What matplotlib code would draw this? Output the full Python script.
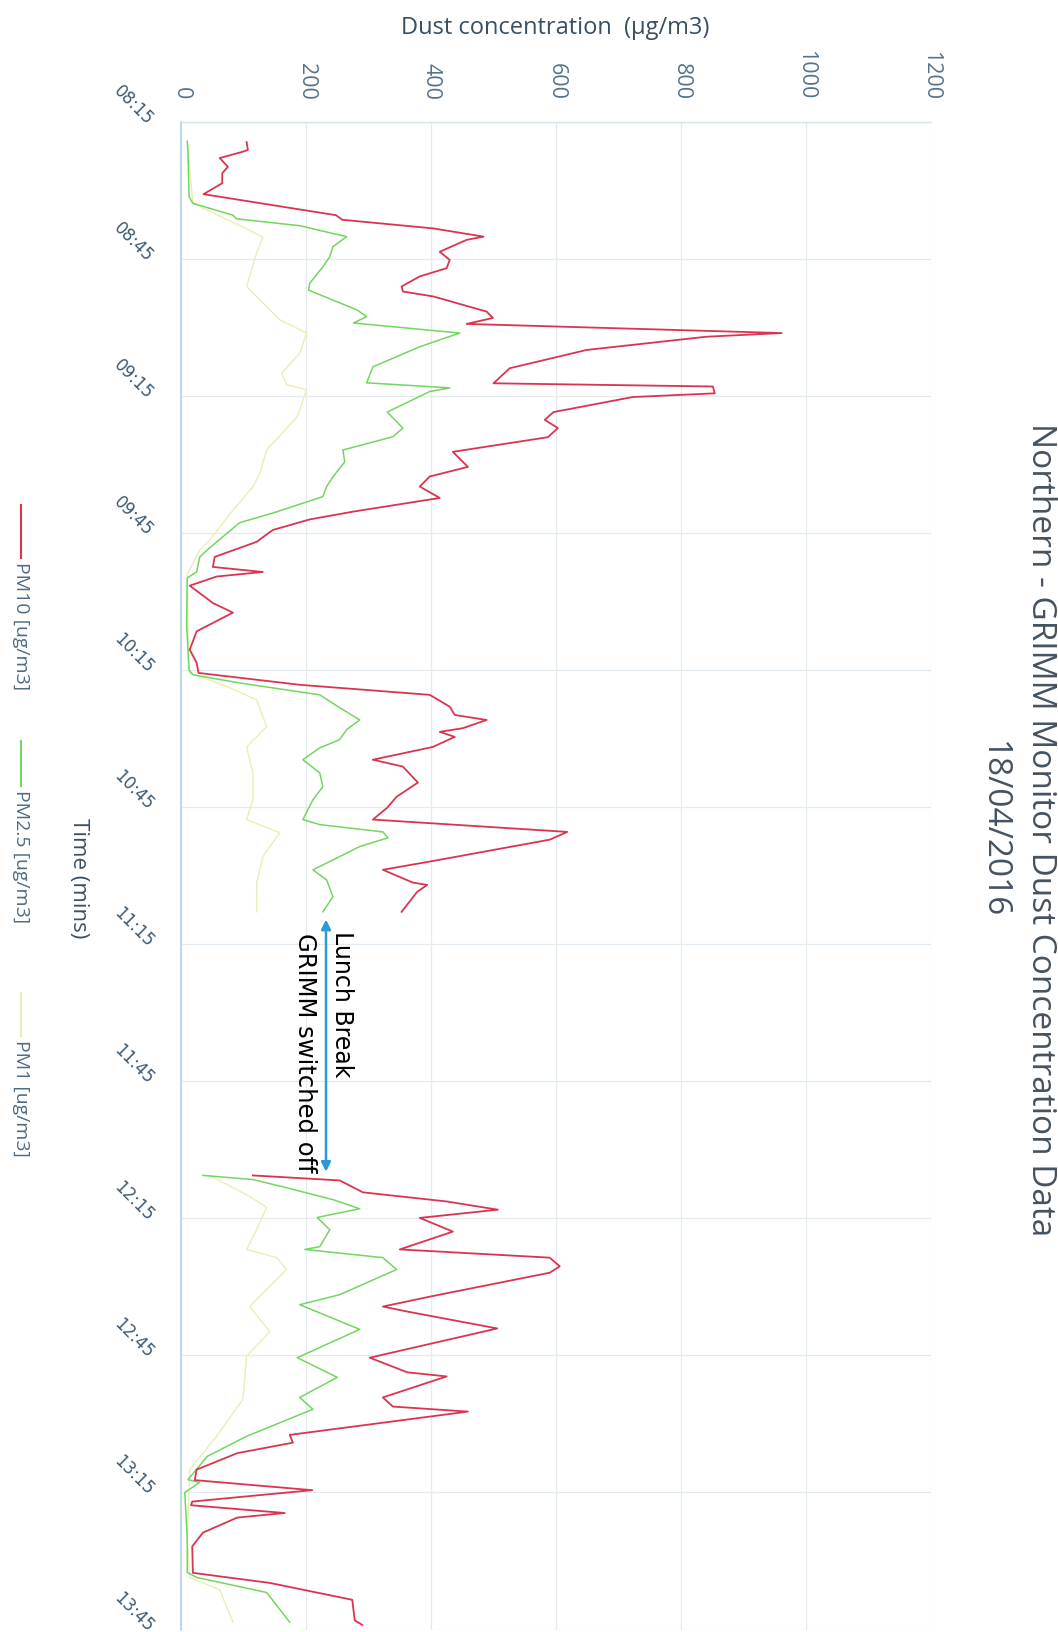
import numpy as np
import matplotlib
matplotlib.use("Agg")
import matplotlib.pyplot as plt
from matplotlib.lines import Line2D

# ---------------- data (minutes after 08:15, concentration ug/m3) ----------------
pm10_t = [4.4, 6.1, 6.5, 7.9, 9.8, 11.2, 13.4, 15.8, 20.4, 20.8, 21.4, 23.3, 25.1, 25.8, 28.4, 30.2,
          32, 33.8, 36, 37.1, 38.2, 41.5, 42.9, 44.2, 46.2, 47, 49.9, 53.9, 57.2, 57.9, 59.4,
          60.2, 63.5, 65.2, 67, 69, 72.2, 75.5, 77.6, 79.8, 82.3, 85.3, 87, 89.3, 91.9, 95.2,
          97.4, 98.5, 99.5, 101.5, 105.3, 107.4, 111.5, 115.5, 118.4, 120.6, 123.2, 125.4,
          128, 129.8, 130.9, 132.7, 133.5, 134.6, 136.8, 139.6, 141.1, 144.6, 147.7, 150.1,
          152.7, 155.4, 157.1, 161.5, 163.7, 166.5, 167, 168.5, 172.9,
          200,
          230.6, 231.7, 234.3, 236.3, 238.1, 239.9, 242.9, 244.6, 246.8, 248.6, 250.5, 251.9,
          257, 259.3, 260.4, 264.1, 270.5, 273.7, 274.6, 279.2, 281.2, 282.3, 287.4, 289.1,
          291.4, 295, 297.3, 299.5, 301, 302, 302.8, 304.5, 305.5, 308.8, 311.8, 317.6,
          319.8, 323.5, 328, 329]
pm10_v = [105, 107, 99, 62, 75, 66, 66, 36, 248, 252, 258, 404, 484, 457, 414, 430,
          425, 382, 353, 355, 404, 489, 499, 457, 961, 841, 649, 526, 500, 851, 854,
          723, 596, 582, 603, 587, 435, 459, 398, 382, 414, 275, 206, 147, 121, 54,
          51, 131, 57, 14, 51, 83, 25, 14, 25, 28, 190, 398,
          430, 438, 489, 451, 414, 438, 403, 307, 355, 379, 345, 330,
          307, 618, 590, 414, 323, 371, 394, 378, 353,
          np.nan,
          115, 254, 291, 425, 507, 382, 435, 398, 350, 590, 606, 590,
          403, 323, 362, 506, 302, 362, 425, 323, 339, 459, 174, 179,
          90, 25, 22, 210, 94, 18, 16, 166, 90, 35, 18, 19,
          142, 274, 278, 290]

pm25_t = [4.3, 6.1, 16.4, 17.8, 20.4, 21.2, 22.7, 25.1, 27.3, 29.5, 31.7, 35.3, 36.8, 41.1,
          42.6, 44, 46.2, 49.2, 53.6, 57.1, 58.2, 59, 63.5, 67, 68.9, 71.8, 74.4, 77.7,
          79.8, 82, 85.6, 87.7, 93.2, 95.2, 98.5, 99.8, 110, 120, 121, 122.8, 125.4, 128.2,
          130.9, 133, 135.2, 137, 139.6, 142.5, 145.5, 148.4, 152.7, 153.8, 155.4, 156.7,
          158.6, 160.8, 163.7, 165.9, 169.6, 172.9,
          200,
          230.6, 231.5, 233.3, 235.9, 237.9, 239.8, 242.5, 246.2, 246.8, 248.6, 251.2,
          256.7, 258.9, 264.3, 270.5, 274.8, 279.2, 281.8, 287.7, 292.1, 297.2, 297.8,
          300, 310, 317.5, 318.6, 321.9, 328.4]
pm25_v = [10, 11, 13, 19, 83, 89, 190, 265, 243, 238, 227, 206, 204, 281,
          297, 276, 446, 382, 307, 297, 430, 398, 330, 355, 339, 259, 262, 243,
          233, 227, 147, 94, 46, 30, 25, 10, 9, 13, 19, 94, 222, 254,
          286, 265, 254, 222, 195, 222, 227, 211, 195, 222, 323, 331,
          286, 254, 211, 233, 243, 227,
          np.nan,
          35, 115, 169, 243, 286, 218, 238, 222, 198, 323, 345,
          254, 190, 286, 186, 250, 190, 211, 105, 42, 11, 30,
          6, 10, 10, 25, 137, 174]

pm1_t = [4, 17.8, 19.3, 23, 25.2, 28.7, 36, 40.4, 43.3, 46.2, 50.6, 55, 57.5, 58.6, 64.5,
         71.8, 76.9, 79.9, 85, 91.5, 93.7, 99, 120, 120.6, 123.6, 126.5, 132.4, 136.8,
         142.5, 148.4, 152.7, 155.6, 160.8, 166.5, 172.9,
         200,
         230.6, 235.2, 237.6, 242.5, 246.8, 248.6, 251.2, 259.3, 264.8, 270.2, 279.6,
         287.7, 295, 310, 318.6, 321.3, 328.4]
pm1_v = [10, 19, 42, 99, 131, 121, 105, 137, 158, 201, 190, 161, 169, 201, 186,
         137, 126, 115, 83, 46, 30, 10, 12, 14, 74, 121, 137, 105,
         115, 115, 105, 158, 131, 121, 121,
         np.nan,
         46, 110, 137, 121, 105, 153, 169, 110, 142, 105, 99,
         57, 14, 10, 14, 62, 83]

time_ticks = list(range(0, 331, 30))
time_labels = ["08:15", "08:45", "09:15", "09:45", "10:15", "10:45", "11:15",
               "11:45", "12:15", "12:45", "13:15", "13:45"]
conc_ticks = [0, 200, 400, 600, 800, 1000, 1200]

lunch_start, lunch_end, lunch_x = 174.6, 229.8, 232

series_names = ["PM10 [ug/m3]", "PM2.5 [ug/m3]", "PM1 [ug/m3]"]
colors = ["#d93550", "#72d660", "#e9efb4"]

# ---------------- figure ----------------
W, H = 1058, 1632
fig = plt.figure(figsize=(W / 100, H / 100), dpi=100)
fig.patch.set_facecolor("white")

ax_left, ax_right, ax_top, ax_bot = 181, 931, 122, 1629.5
ax = fig.add_axes([ax_left / W, (H - ax_bot) / H, (ax_right - ax_left) / W, (ax_bot - ax_top) / H])

ax.plot(pm1_v, pm1_t, color=colors[2], lw=1.0, zorder=2)
ax.plot(pm25_v, pm25_t, color=colors[1], lw=1.1, zorder=3)
ax.plot(pm10_v, pm10_t, color=colors[0], lw=1.3, zorder=4)

ax.set_xlim(0, 1200)
ax.set_ylim(330, 0)

ax.set_xticks(conc_ticks)
ax.set_xticklabels([str(c) for c in conc_ticks])
ax.xaxis.tick_top()
ax.tick_params(axis="x", length=0, pad=16, labelsize=15.5, labelcolor="#56728a")
for lab in ax.get_xticklabels():
    lab.set_rotation(-90)
    lab.set_va("bottom")
    lab.set_ha("center")
    lab.set_family("Open Sans")

ax.set_yticks(time_ticks)
ax.set_yticklabels(time_labels)
ax.tick_params(axis="y", length=0, pad=22, labelsize=12, labelcolor="#3f5a70")
for lab in ax.get_yticklabels():
    lab.set_rotation(-45)
    lab.set_rotation_mode("anchor")
    lab.set_ha("right")
    lab.set_va("center")

ax.grid(True, color="#e3ebf0", lw=0.9)
ax.set_axisbelow(True)
for s in ["right", "bottom"]:
    ax.spines[s].set_visible(False)
ax.spines["left"].set_color("#b5d0e6")
ax.spines["left"].set_linewidth(1.2)
ax.spines["top"].set_color("#d5e3ee")
ax.spines["top"].set_linewidth(1.0)

# lunch break annotation
ax.annotate("", xy=(lunch_x, lunch_start), xytext=(lunch_x, lunch_end),
            arrowprops=dict(arrowstyle="<|-|>", color="#2b9ad6", lw=1.8,
                            mutation_scale=14, shrinkA=0, shrinkB=0), zorder=6)
ax.text(lunch_x + 25, lunch_start + 2.5, "Lunch Break", rotation=-90, ha="center", va="top",
        fontsize=17, color="black", zorder=6)
ax.text(lunch_x - 34, lunch_start + 3, "GRIMM switched off", rotation=-90, ha="center", va="top",
        fontsize=17.5, color="black", zorder=6)

# axis titles
fig.text(555 / W, 1 - 28 / H, "Dust concentration  (μg/m3)", ha="center", va="center",
         fontsize=17, color="#3a4f63", family="Open Sans")
fig.text(78 / W, 1 - 878 / H, "Time (mins)", rotation=-90, ha="center", va="center",
         fontsize=16, color="#3a4f63", family="Open Sans")

# title
fig.text(1040 / W, 1 - 830 / H, "Northern - GRIMM Monitor Dust Concentration Data",
         rotation=-90, ha="center", va="center", fontsize=24, color="#45525f", family="Open Sans")
fig.text(993 / W, 1 - 830 / H, "18/04/2016", rotation=-90, ha="center", va="center",
         fontsize=24, color="#45525f", family="Open Sans")

# legend (rotated)
leg_x = 21
leg_items = [(505, 562), (741, 790), (993, 1040)]
for (y0, y1), name, col in zip(leg_items, series_names, colors):
    fig.add_artist(Line2D([leg_x / W, leg_x / W], [1 - y0 / H, 1 - (y1 - 4) / H],
                          color=col, lw=1.5, transform=fig.transFigure))
    fig.text(leg_x / W, 1 - y1 / H, name, rotation=-90, ha="center", va="top",
             fontsize=14, color="#4f6b82", family="Open Sans")

fig.savefig("out.png", dpi=100)
